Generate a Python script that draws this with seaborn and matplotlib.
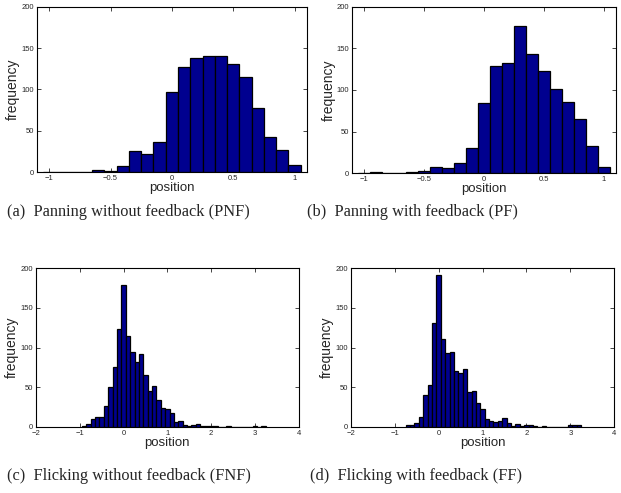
import numpy as np
import pandas as pd
import matplotlib
matplotlib.use("Agg")
import matplotlib.pyplot as plt
import seaborn as sns

# ---- data (bin centres and counts) ----
pnf_centers = [round(-1.0 + 0.1 * i, 1) for i in range(21)]
pnf_counts = [0, 0, 0, 0, 2, 1, 7, 25, 22, 37, 97, 127, 138, 141, 141, 131, 115, 78, 43, 27, 9]

pf_centers = [round(-1.0 + 0.1 * i, 1) for i in range(21)]
pf_counts = [0, 1, 0, 0, 1, 2, 7, 6, 12, 30, 84, 129, 132, 177, 143, 123, 101, 86, 65, 32, 7]

fnf_centers = [round(-0.9 + 0.1 * i, 1) for i in range(42)]
fnf_counts = [1, 4, 10, 12, 13, 27, 50, 76, 123, 179, 114, 94, 82, 92, 65, 45, 52, 34, 24, 23,
              18, 6, 7, 3, 1, 3, 4, 1, 1, 1, 1, 0, 0, 1, 0, 0, 0, 0, 0, 1, 0, 1]

ff_centers = [round(-0.7 + 0.1 * i, 1) for i in range(40)]
ff_counts = [2, 3, 5, 13, 40, 53, 131, 192, 111, 93, 94, 70, 68, 73, 44, 45, 30, 23, 10, 8,
             6, 8, 11, 5, 1, 4, 1, 3, 2, 1, 0, 1, 0, 0, 0, 0, 0, 2, 2, 2]

captions = ["(a)  Panning without feedback (PNF)", "(b)  Panning with feedback (PF)",
            "(c)  Flicking without feedback (FNF)", "(d)  Flicking with feedback (FF)"]
xlims = [(-1.1, 1.1), (-1.1, 1.1), (-2, 4), (-2, 4)]
xticks = [[-1, -0.5, 0, 0.5, 1], [-1, -0.5, 0, 0.5, 1], [-2, -1, 0, 1, 2, 3, 4], [-2, -1, 0, 1, 2, 3, 4]]
yticks = [0, 50, 100, 150, 200]

sns.set_style("ticks")
plt.rcParams['font.family'] = ['Liberation Sans', 'DejaVu Sans']
plt.rcParams['axes.unicode_minus'] = True

fig = plt.figure(figsize=(6.21, 4.93), dpi=100)
rects = [
    [0.0596, 0.651, 0.4344, 0.335],
    [0.567, 0.649, 0.425, 0.337],
    [0.058, 0.134, 0.423, 0.322],
    [0.565, 0.134, 0.424, 0.322],
]
data = [(pnf_centers, pnf_counts), (pf_centers, pf_counts),
        (fnf_centers, fnf_counts), (ff_centers, ff_counts)]
cap_pos = [(0.207, 0.570), (0.664, 0.570), (0.207, 0.034), (0.670, 0.034)]

for i, (rect, (c, n)) in enumerate(zip(rects, data)):
    ax = fig.add_axes(rect)
    df = pd.DataFrame({"position": np.array(c, dtype=float),
                       "count": np.array(n, dtype=float)})
    edges = list(np.append(df["position"].values - 0.05, df["position"].values[-1] + 0.05))
    sns.histplot(data=df, x="position", weights="count", bins=edges, ax=ax,
                 color="#00008F", edgecolor="black", linewidth=0.9, alpha=1.0)
    ax.set_xlim(*xlims[i])
    ax.set_ylim(0, 200)
    ax.set_xticks(xticks[i])
    ax.set_xticklabels([("%g" % t).replace("-", "\u2212") for t in xticks[i]])
    ax.set_yticks(yticks)
    ax.tick_params(direction="in", top=True, right=True, length=3, width=0.6,
                   labelsize=5.5, pad=2)
    for s in ax.spines.values():
        s.set_linewidth(0.8)
        s.set_color("black")
    ax.set_xlabel("position", fontsize=9.5, labelpad=0)
    ax.set_ylabel("frequency", fontsize=10, labelpad=1)
    fig.text(cap_pos[i][0], cap_pos[i][1], captions[i], ha="center", va="center",
             fontsize=11.8, family=["Liberation Serif", "DejaVu Serif"])

fig.savefig("out.png", dpi=100)
